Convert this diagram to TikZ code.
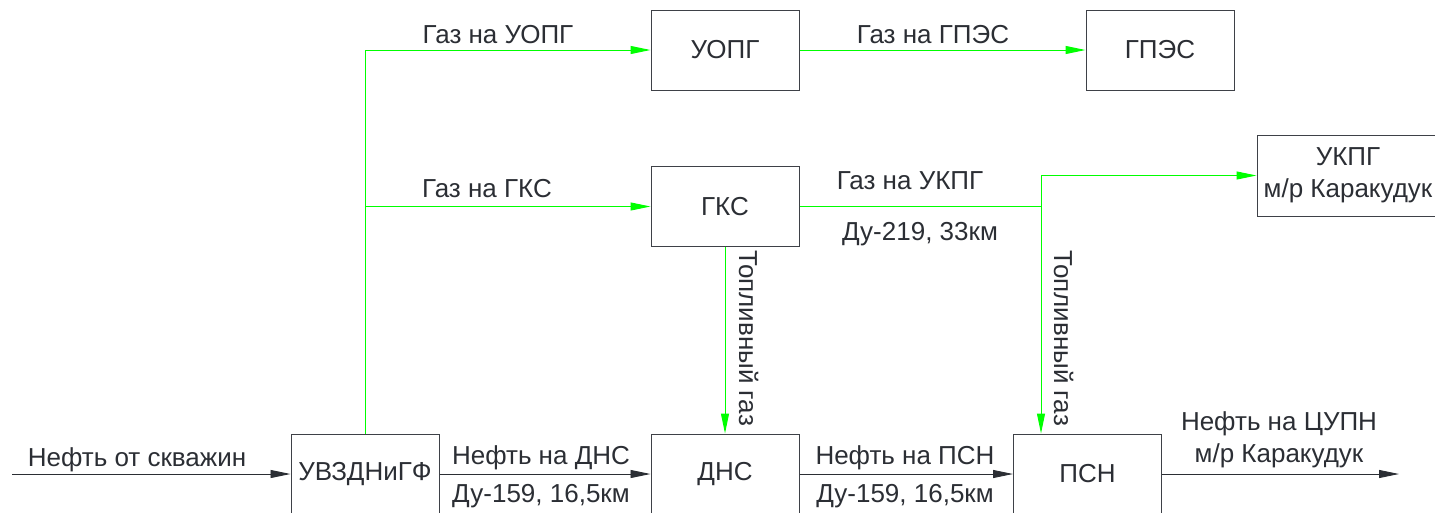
\documentclass[tikz,border=0pt]{standalone}
\usepackage{fontspec}
\setmainfont{Liberation Sans}
\usetikzlibrary{arrows.meta}
\definecolor{txt}{HTML}{2B2E34}
\definecolor{edge}{HTML}{3E4147}
\definecolor{gas}{HTML}{00FF00}
\begin{document}
\begin{tikzpicture}[x=1pt,y=-1pt,
  font=\fontsize{26}{31}\selectfont, text=txt,
  box/.style={draw=edge, line width=1pt, minimum width=148pt, minimum height=80pt, inner sep=0pt},
  oil/.style={draw=txt, line width=0.9pt, -{Triangle[length=20pt,width=8pt]}},
  gasline/.style={draw=gas, line width=1pt, -{Triangle[length=20pt,width=8pt]}},
  gasplain/.style={draw=gas, line width=1pt},
  lbl/.style={anchor=base, inner sep=0pt},
  vlbl/.style={anchor=base west, rotate=-90, inner sep=0pt}]
\useasboundingbox (0,0) rectangle (1435,512);
% boxes
\node[box] (uvz) at (365,474) {УВЗДНиГФ};
\node[box] (dns) at (725,474) {ДНС};
\node[box] (psn) at (1087.5,474) {ПСН};
\node[box] (uopg) at (725,50) {УОПГ};
\node[box] (gpes) at (1160,50) {ГПЭС};
\node[box] (gks) at (725,206.5) {ГКС};
\node[box, minimum width=182pt, minimum height=81pt, align=center] (ukpg) at (1348,175.5) {УКПГ\\[1pt]м/р Каракудук};
% free ends
\coordinate (src) at (12,474);
\coordinate (out) at (1399,474);
\coordinate (j2) at (1041,206.5);
% oil connectors
\draw[oil] (src) -- (uvz.west);
\draw[oil] (uvz.east) -- (dns.west);
\draw[oil] (dns.east) -- (psn.west);
\draw[oil] (psn.east) -- (out);
% gas connectors
\draw[gasline] (uvz.north) |- (uopg.west);
\draw[gasline] (uvz.north) |- (gks.west);
\draw[gasline] (uopg.east) -- (gpes.west);
\draw[gasplain] (gks.east) -- (j2);
\draw[gasline] (j2) |- (ukpg.west);
\draw[gasline] (j2) -- (j2 |- psn.north);
\draw[gasline] (gks.south) -- (dns.north);
% labels
\node[lbl] (l1) at (137,466) {Нефть от скважин};
\node[lbl] (l2) at (541,464) {Нефть на ДНС};
\node[lbl] (l3) at (541,502) {Ду-159, 16,5км};
\node[lbl] (l4) at (905,464) {Нефть на ПСН};
\node[lbl] (l5) at (905,502) {Ду-159, 16,5км};
\node[lbl] (l6) at (1279,430) {Нефть на ЦУПН};
\node[lbl] (l7) at (1279,462) {м/р Каракудук};
\node[lbl] (l8) at (498,43) {Газ на УОПГ};
\node[lbl] (l9) at (933,43) {Газ на ГПЭС};
\node[lbl] (l10) at (487,197) {Газ на ГКС};
\node[lbl] (l11) at (910,189) {Газ на УКПГ};
\node[lbl] (l12) at (920,240) {Ду-219, 33км};
\node[vlbl] (l13) at (739,250) {Топливный газ};
\node[vlbl] (l14) at (1054,250) {Топливный газ};
\end{tikzpicture}
\end{document}
